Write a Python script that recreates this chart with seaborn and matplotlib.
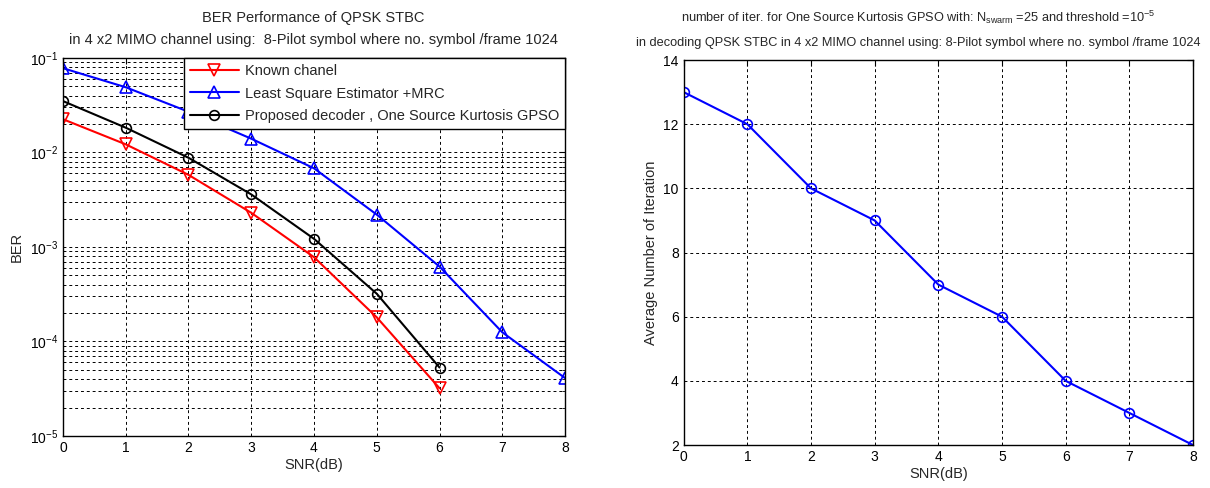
import numpy as np
import pandas as pd
import matplotlib
matplotlib.use("Agg")
import matplotlib.pyplot as plt
import seaborn as sns
from matplotlib.ticker import LogLocator, NullFormatter, MultipleLocator

snr = [0, 1, 2, 3, 4, 5, 6, 7, 8]
snr_known = [0, 1, 2, 3, 4, 5, 6]
ber_known = [0.0225, 0.0122, 0.0058, 0.0023, 0.00078, 0.00018, 3.2e-5]
ber_ls = [0.078, 0.049, 0.027, 0.0140, 0.0068, 0.0022, 0.00062, 0.000125, 4.1e-5]
snr_prop = [0, 1, 2, 3, 4, 5, 6]
ber_prop = [0.035, 0.0183, 0.0088, 0.0036, 0.00122, 0.00032, 5.3e-5]
iters = [13, 12, 10, 9, 7, 6, 4, 3, 2]

labels = ["Known chanel", "Least Square Estimator +MRC",
          "Proposed decoder , One Source Kurtosis GPSO"]

sns.set_style("white")
plt.rcParams['font.family'] = ['Liberation Sans', 'DejaVu Sans']
plt.rcParams['mathtext.default'] = 'regular'
plt.rcParams['font.size'] = 10

fig = plt.figure(figsize=(12.1, 4.88), dpi=100)
ax1 = fig.add_axes([0.052, 0.1066, 0.415, 0.7746])
ax2 = fig.add_axes([0.565, 0.088, 0.421, 0.789])

def style(ax):
    for s in ax.spines.values():
        s.set_color('black')
        s.set_linewidth(1.0)
    ax.tick_params(direction='in', which='both', top=True, right=True,
                   colors='black', labelsize=10, length=4)
    ax.tick_params(which='minor', length=2)

sns.lineplot(x=snr_known, y=ber_known, ax=ax1, color='red', marker='v',
             markersize=8, markerfacecolor='none', markeredgecolor='red',
             markeredgewidth=1.2, linewidth=1.5, label=labels[0])
sns.lineplot(x=snr, y=ber_ls, ax=ax1, color='blue', marker='^',
             markersize=8, markerfacecolor='none', markeredgecolor='blue',
             markeredgewidth=1.2, linewidth=1.5, label=labels[1])
sns.lineplot(x=snr_prop, y=ber_prop, ax=ax1, color='black', marker='o',
             markersize=7, markerfacecolor='none', markeredgecolor='black',
             markeredgewidth=1.2, linewidth=1.5, label=labels[2])
ax1.set_yscale('log')
ax1.set_xlim(0, 8)
ax1.set_ylim(1e-5, 1e-1)
ax1.xaxis.set_major_locator(MultipleLocator(1))
ax1.yaxis.set_major_locator(LogLocator(base=10, numticks=10))
ax1.yaxis.set_minor_locator(LogLocator(base=10, subs=np.arange(2, 10), numticks=20))
ax1.yaxis.set_minor_formatter(NullFormatter())
ax1.grid(True, which='both', linestyle=(0, (3, 3)), color='black', linewidth=0.7)
ax1.set_xlabel("SNR(dB)", fontsize=10.5, labelpad=2)
ax1.set_ylabel("BER", fontsize=10.5)
fig.text(0.259, 0.963, "BER Performance of QPSK STBC", ha='center', va='center', fontsize=10.5)
fig.text(0.259, 0.918, "in 4 x2 MIMO channel using:  8-Pilot symbol where no. symbol /frame 1024",
         ha='center', va='center', fontsize=10.5)
style(ax1)
leg = ax1.legend(loc='upper right', fontsize=10.5, frameon=True, fancybox=False,
                 edgecolor='black', borderaxespad=0, handlelength=3.4,
                 borderpad=0.4, labelspacing=0.6, handletextpad=0.4, framealpha=1)
leg.get_frame().set_linewidth(1.0)

sns.lineplot(x=snr, y=iters, ax=ax2, color='blue', marker='o', markersize=7,
             markerfacecolor='none', markeredgecolor='blue', markeredgewidth=1.2,
             linewidth=1.5)
ax2.set_xlim(0, 8)
ax2.set_ylim(2, 14)
ax2.xaxis.set_major_locator(MultipleLocator(1))
ax2.yaxis.set_major_locator(MultipleLocator(2))
ax2.grid(True, which='major', linestyle=(0, (3, 3)), color='black', linewidth=0.7)
ax2.set_xlabel("SNR(dB)", fontsize=10.5, labelpad=2)
ax2.set_ylabel("Average Number of Iteration", fontsize=10.5)
fig.text(0.759, 0.965,
         "number of iter. for One Source Kurtosis GPSO with: N$_{swarm}$ =25 and threshold =10$^{-5}$",
         ha='center', va='center', fontsize=9.2)
fig.text(0.759, 0.912,
         "in decoding QPSK STBC in 4 x2 MIMO channel using: 8-Pilot symbol where no. symbol /frame 1024",
         ha='center', va='center', fontsize=9.2)
style(ax2)

fig.savefig("out.png", dpi=100, facecolor='white')
